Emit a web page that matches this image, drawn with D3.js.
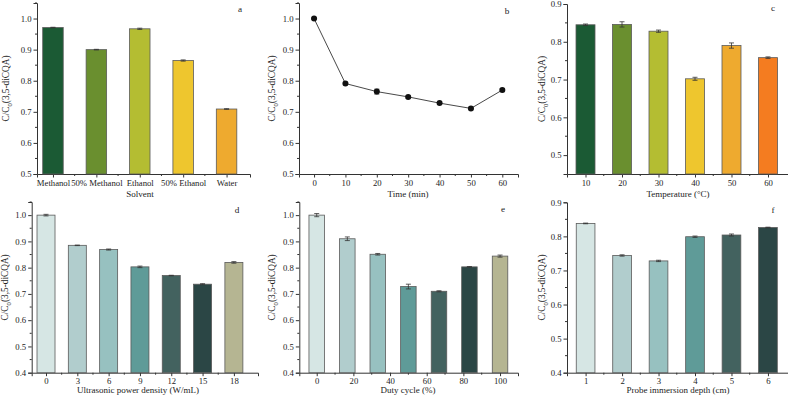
<!DOCTYPE html>
<html><head><meta charset="utf-8">
<script src="https://cdn.jsdelivr.net/npm/d3@7"></script>
<style>body{margin:0;background:#fff}svg{display:block}text{font-family:"Liberation Serif","Times New Roman",serif;fill:#222}</style>
</head><body><svg id="c" width="788" height="397"></svg>
<script>
// ---- data ----
const solventCats = ["Methanol","50% Methanol","Ethanol","50% Ethanol","Water"];
const solventVals = [0.971,0.900,0.967,0.865,0.709];
const solventErr  = [0.001,0.001,0.002,0.002,0.001];
const solventColors = ["#1b5a34","#6a8f2f","#b4bd32","#eec62e","#eeaa2f"];

const timeX   = [0,10,20,30,40,50,60];
const timeVals= [1.000,0.791,0.765,0.748,0.728,0.711,0.770];
const timeErr = [0.003,0.004,0.008,0.004,0.004,0.004,0.005];
const timeTicks = [0,10,20,30,40,50,60];

const tempCats = ["10","20","30","40","50","60"];
const tempVals = [0.845,0.846,0.828,0.702,0.790,0.758];
const tempErr  = [0.002,0.007,0.003,0.004,0.007,0.002];
const tempColors = ["#1b5a34","#6a8f2f","#b4bd32","#eec62e","#eeaa2f","#f47c20"];

const powerCats = ["0","3","6","9","12","15","18"];
const powerVals = [1.000,0.885,0.869,0.803,0.770,0.737,0.820];
const powerErr  = [0.003,0.001,0.002,0.003,0.001,0.002,0.003];

const dutyX    = [0,16.7,33.3,50,66.7,83.3,100];
const dutyVals = [1.000,0.910,0.851,0.728,0.710,0.803,0.844];
const dutyErr  = [0.006,0.007,0.003,0.009,0.002,0.001,0.004];
const dutyTicks = [0,20,40,60,80,100];

const depthCats = ["1","2","3","4","5","6"];
const depthVals = [0.838,0.744,0.728,0.799,0.804,0.826];
const depthErr  = [0.001,0.002,0.002,0.002,0.003,0.001];

const tealColors = ["#d6e6e4","#b1cdcd","#97c1c0","#5f9b98","#43625f","#2b4645","#b5b592"];

const yTicksA = [0.5,0.6,0.7,0.8,0.9,1.0];
const yTicksC = [0.5,0.6,0.7,0.8,0.9];
const yTicksD = [0.4,0.5,0.6,0.7,0.8,0.9,1.0];
const yTicksF = [0.4,0.5,0.6,0.7,0.8,0.9];

// ---- drawing ----
const svg = d3.select("#c");
const FS = 8.7;

function yTitle(g, x, y){
  const t = g.append("text").attr("transform",`translate(${x},${y}) rotate(-90)`)
    .attr("text-anchor","middle").attr("font-size",FS+0.6);
  t.append("tspan").text("C/C");
  t.append("tspan").attr("font-size",FS-2).attr("dy",2.5).text("0");
  t.append("tspan").attr("dy",-2.5).text("(3,5-diCQA)");
}

function panel(o){
  const g = svg.append("g");
  const x = d3.scaleLinear().domain(o.xdom).range([o.x0,o.x1]);
  const y = d3.scaleLinear().domain(o.ydom).range([o.yb,o.yt]);
  // y axis
  const ya = d3.axisLeft(y).tickValues(o.yticks).tickFormat(d3.format(".1f")).tickSize(3.5).tickPadding(2);
  const gy = g.append("g").attr("transform",`translate(${o.x0},0)`).call(ya);
  const yminor = o.yticks.slice(0,-1).map(v=>v+0.05).concat(o.ydom[1]>o.yticks[o.yticks.length-1]+0.049?[o.yticks[o.yticks.length-1]+0.05]:[]);
  gy.append("g").selectAll("line").data(yminor).join("line")
    .attr("x1",0).attr("x2",-2).attr("y1",d=>y(d)).attr("y2",d=>y(d)).attr("stroke","#333");
  // x axis
  const xa = d3.axisBottom(x).tickValues(o.xticks).tickFormat((d,i)=>o.xlabels?o.xlabels[i]:d).tickSize(3.5).tickPadding(2);
  const gx = g.append("g").attr("transform",`translate(0,${o.yb})`).call(xa);
  gx.append("g").selectAll("line").data(o.xminor).join("line")
    .attr("x1",d=>x(d)).attr("x2",d=>x(d)).attr("y1",0).attr("y2",2).attr("stroke","#333");
  [gx,gy].forEach(a=>{
    a.select(".domain").attr("stroke","#333");
    a.selectAll(".tick line").attr("stroke","#333");
    a.selectAll("text").attr("font-size",FS).attr("font-family","Liberation Serif").attr("fill","#222");
  });
  // bars
  if(o.bars){
    g.append("g").selectAll("rect").data(o.vals).join("rect")
      .attr("x",(d,i)=>x(o.xs[i])-o.bw/2).attr("width",o.bw)
      .attr("y",d=>y(d)).attr("height",d=>o.yb-y(d))
      .attr("fill",(d,i)=>o.colors[i]).attr("stroke","#5a5a5a").attr("stroke-width",0.8);
  } else {
    const line = d3.line().x((d,i)=>x(o.xs[i])).y(d=>y(d));
    g.append("path").datum(o.vals).attr("d",line).attr("fill","none").attr("stroke","#333").attr("stroke-width",0.9);
  }
  // error bars
  const eg = g.append("g").attr("stroke","#333").attr("stroke-width",0.8);
  o.vals.forEach((v,i)=>{
    const cx = x(o.xs[i]), e = o.err[i];
    eg.append("line").attr("x1",cx).attr("x2",cx).attr("y1",y(v+e)).attr("y2",y(v-e));
    eg.append("line").attr("x1",cx-2.5).attr("x2",cx+2.5).attr("y1",y(v+e)).attr("y2",y(v+e));
    eg.append("line").attr("x1",cx-2.5).attr("x2",cx+2.5).attr("y1",y(v-e)).attr("y2",y(v-e));
  });
  if(!o.bars){
    g.append("g").selectAll("circle").data(o.vals).join("circle")
      .attr("cx",(d,i)=>x(o.xs[i])).attr("cy",d=>y(d)).attr("r",3).attr("fill","#111");
  }
  // titles
  yTitle(g, o.ytx, (o.yt+o.yb)/2);
  g.append("text").attr("x",o.xtx).attr("y",o.xty).attr("text-anchor","middle").attr("font-size",FS+0.3).text(o.xtitle);
  g.append("text").attr("x",o.lx).attr("y",o.ly).attr("text-anchor","middle").attr("font-size",FS+0.5).text(o.letter);
  return g;
}

const idx = n => d3.range(n);
const mids = n => d3.range(n-1).map(i=>i+0.5);

// a
panel({bars:true, xs:idx(5), vals:solventVals, err:solventErr, colors:solventColors,
  xdom:[-0.368,4.54], x0:37, x1:250, xticks:idx(5), xlabels:solventCats, xminor:mids(5), bw:20.5,
  ydom:[0.5,1.05], yb:174, yt:3, yticks:yTicksA,
  ytx:9, xtitle:"Solvent", xtx:140, xty:196.5, letter:"a", lx:240, ly:12});
// b
panel({bars:false, xs:timeX, vals:timeVals, err:timeErr,
  xdom:[-4.8,65], x0:299, x1:518, xticks:timeTicks, xminor:[5,15,25,35,45,55],
  ydom:[0.5,1.05], yb:174, yt:3, yticks:yTicksA,
  ytx:275, xtitle:"Time (min)", xtx:408, xty:196.5, letter:"b", lx:507, ly:14});
// c
panel({bars:true, xs:idx(6), vals:tempVals, err:tempErr, colors:tempColors,
  xdom:[-0.507,5.548], x0:567, x1:788, xticks:idx(6), xlabels:tempCats, xminor:mids(6), bw:19,
  ydom:[0.45,0.9], yb:174, yt:4, yticks:yTicksC,
  ytx:545, xtitle:"Temperature (°C)", xtx:678, xty:196.5, letter:"c", lx:773, ly:11});
// d
panel({bars:true, xs:idx(7), vals:powerVals, err:powerErr, colors:tealColors,
  xdom:[-0.457,6.77], x0:31.7, x1:258, xticks:idx(7), xlabels:powerCats, xminor:mids(7), bw:18,
  ydom:[0.4,1.05], yb:372.7, yt:202, yticks:yTicksD,
  ytx:8, xtitle:"Ultrasonic power density (W/mL)", xtx:138, xty:393, letter:"d", lx:237, ly:213});
// e
panel({bars:true, xs:dutyX, vals:dutyVals, err:dutyErr, colors:tealColors,
  xdom:[-9.5,109.8], x0:299.3, x1:518, xticks:dutyTicks, xminor:[10,30,50,70,90], bw:15.5,
  ydom:[0.4,1.05], yb:372.7, yt:202, yticks:yTicksD,
  ytx:275, xtitle:"Duty cycle (%)", xtx:408, xty:393, letter:"e", lx:503, ly:212});
// f
panel({bars:true, xs:idx(6), vals:depthVals, err:depthErr, colors:tealColors,
  xdom:[-0.51,5.55], x0:567, x1:788, xticks:idx(6), xlabels:depthCats, xminor:mids(6), bw:18.7,
  ydom:[0.4,0.9], yb:372.7, yt:202.3, yticks:yTicksF,
  ytx:545, xtitle:"Probe immersion depth (cm)", xtx:678, xty:393, letter:"f", lx:773, ly:213});
</script></body></html>
